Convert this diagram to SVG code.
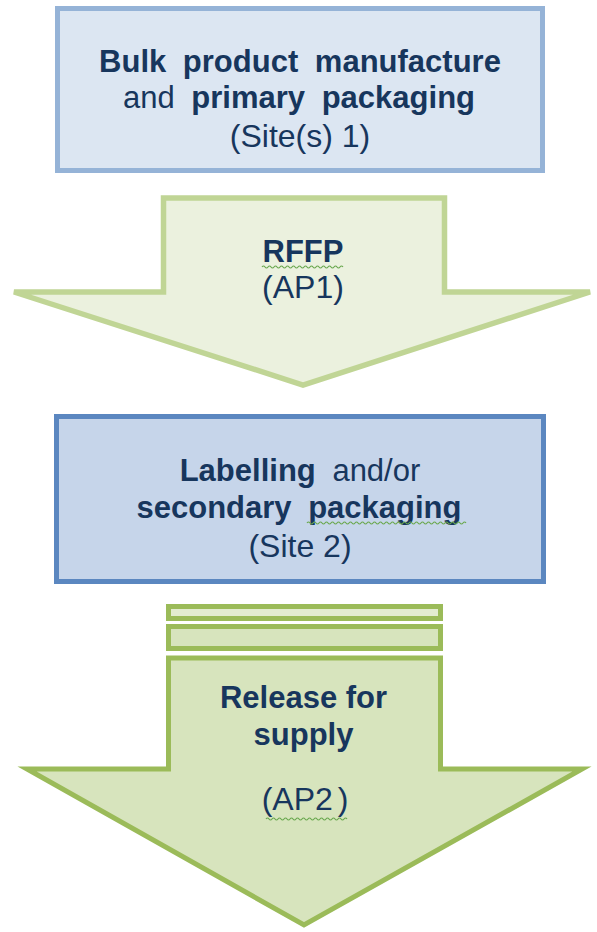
<svg xmlns="http://www.w3.org/2000/svg" width="597" height="932" viewBox="0 0 597 932">
<style>
.t{font-family:"Liberation Sans",Arial,sans-serif;font-size:31px;fill:#17365d;text-anchor:middle}
.w{word-spacing:8px}
.b{font-weight:bold}
.r{font-weight:normal}
.sq{fill:none;stroke:#6aa84f;stroke-width:1.2}
</style>
<rect width="597" height="932" fill="#ffffff"/>
<g id="box1">
<rect x="57.5" y="8.5" width="485" height="162" fill="#dce6f2" stroke="#95b3d7" stroke-width="5"/>
<text class="t b w" x="300" y="72">Bulk product manufacture</text>
<text class="t w" x="299" y="108"><tspan class="r">and</tspan> <tspan class="b">primary packaging</tspan></text>
<text class="t r" x="300" y="147" style="font-size:32px">(Site(s) 1)</text>
</g>
<g id="connectors">
<g id="arrow1">
<path d="M163.5,198 L444.5,198 L444.5,292 L590,292 L303,385 L14,292 L163.5,292 Z" fill="#ebf1de" stroke="#c0d595" stroke-width="5.5" stroke-linejoin="miter"/>
<text class="t b" x="303" y="262">RFFP</text>
<path class="sq" d="M262,267 q1.5,-2 3,0 t3,0 t3,0 t3,0 t3,0 t3,0 t3,0 t3,0 t3,0 t3,0 t3,0 t3,0 t3,0 t3,0 t3,0 t3,0 t3,0 t3,0 t3,0 t3,0 t3,0 t3,0 t3,0 t3,0 t3,0 t3,0 t3,0"/>
<text class="t r" x="303" y="298" style="font-size:32px">(AP1)</text>
</g>
<g id="arrow2">
<rect x="168.5" y="606.5" width="272" height="12" fill="#e3ecd0" stroke="#9bbb59" stroke-width="5"/>
<rect x="168.5" y="626.5" width="272" height="22" fill="#d7e4bd" stroke="#9bbb59" stroke-width="5"/>
<path d="M168.5,658 L440.5,658 L440.5,769 L582,769 L304,925 L27,769 L168.5,769 Z" fill="#d7e4bd" stroke="#9bbb59" stroke-width="5" stroke-linejoin="miter"/>
<text class="t b" x="303.5" y="708">Release for</text>
<text class="t b" x="303.5" y="745">supply</text>
<text class="t r" x="305" y="810" style="font-size:32px;word-spacing:-4px">(AP2 )</text>
<path class="sq" d="M266,819 q1.5,-2 3,0 t3,0 t3,0 t3,0 t3,0 t3,0 t3,0 t3,0 t3,0 t3,0 t3,0 t3,0 t3,0 t3,0 t3,0 t3,0 t3,0 t3,0 t3,0 t3,0 t3,0 t3,0 t3,0 t3,0 t3,0 t3,0 t3,0"/>
</g>
</g>
<g id="box2">
<rect x="56.5" y="416.5" width="487" height="165" fill="#c6d5ea" stroke="#5b87c0" stroke-width="5"/>
<text class="t w" x="300" y="481"><tspan class="b">Labelling</tspan> <tspan class="r">and/or</tspan></text>
<text class="t b w" x="299" y="518">secondary packaging</text>
<path class="sq" d="M307,523 q1.5,-2 3,0 t3,0 t3,0 t3,0 t3,0 t3,0 t3,0 t3,0 t3,0 t3,0 t3,0 t3,0 t3,0 t3,0 t3,0 t3,0 t3,0 t3,0 t3,0 t3,0 t3,0 t3,0 t3,0 t3,0 t3,0 t3,0 t3,0 t3,0 t3,0 t3,0 t3,0 t3,0 t3,0 t3,0 t3,0 t3,0 t3,0 t3,0 t3,0 t3,0 t3,0 t3,0 t3,0 t3,0 t3,0 t3,0 t3,0 t3,0 t3,0 t3,0 t3,0 t3,0 t3,0"/>
<text class="t r" x="300" y="557" style="font-size:32px">(Site 2)</text>
</g>
</svg>
